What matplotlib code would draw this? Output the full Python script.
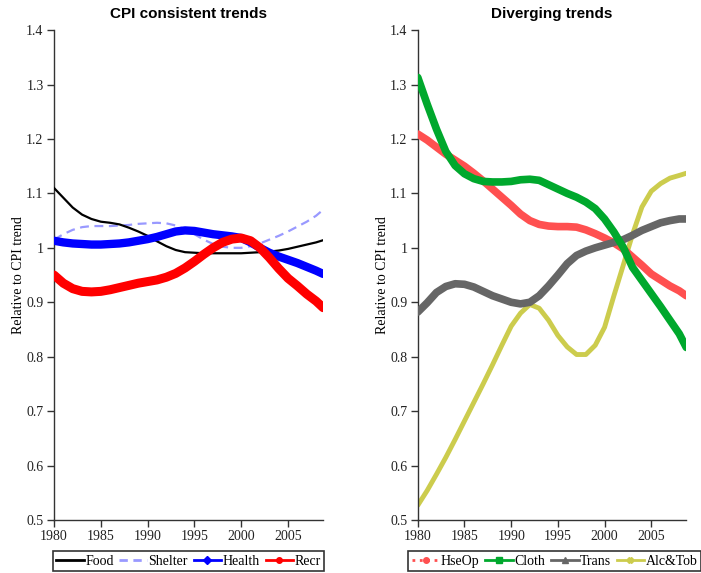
import numpy as np
import matplotlib
matplotlib.use("Agg")
import matplotlib.pyplot as plt
from matplotlib.lines import Line2D

# roky (posledni bod je konec roku 2008)
years = [1980, 1981, 1982, 1983, 1984, 1985, 1986, 1987, 1988, 1989,
         1990, 1991, 1992, 1993, 1994, 1995, 1996, 1997, 1998, 1999,
         2000, 2001, 2002, 2003, 2004, 2005, 2006, 2007, 2008, 2008.75]

# CPI consistent trends
food = [1.110, 1.092, 1.074, 1.061, 1.053, 1.048, 1.046, 1.043, 1.037, 1.030,
        1.022, 1.012, 1.003, 0.996, 0.992, 0.991, 0.990, 0.990, 0.990, 0.990,
        0.990, 0.991, 0.992, 0.993, 0.995, 0.998, 1.002, 1.006, 1.010, 1.014]
shelter = [1.015, 1.025, 1.033, 1.038, 1.040, 1.040, 1.040, 1.041, 1.042, 1.044,
           1.045, 1.046, 1.045, 1.041, 1.034, 1.025, 1.015, 1.007, 1.002, 1.000,
           1.000, 1.003, 1.008, 1.015, 1.022, 1.030, 1.039, 1.048, 1.059, 1.070]
health = [1.013, 1.010, 1.008, 1.007, 1.006, 1.006, 1.007, 1.008, 1.010, 1.013,
          1.016, 1.020, 1.025, 1.030, 1.032, 1.031, 1.028, 1.025, 1.023, 1.021,
          1.018, 1.010, 1.000, 0.991, 0.984, 0.978, 0.972, 0.965, 0.958, 0.952]
recr = [0.950, 0.935, 0.925, 0.920, 0.919, 0.920, 0.923, 0.927, 0.931, 0.935,
        0.938, 0.941, 0.946, 0.953, 0.963, 0.975, 0.988, 1.000, 1.010, 1.016,
        1.018, 1.013, 1.000, 0.982, 0.962, 0.944, 0.930, 0.915, 0.902, 0.890]

# Diverging trends
hseop = [1.209, 1.198, 1.185, 1.172, 1.161, 1.150, 1.137, 1.123, 1.108, 1.093,
         1.078, 1.062, 1.050, 1.043, 1.040, 1.039, 1.039, 1.038, 1.033, 1.026,
         1.018, 1.009, 0.998, 0.983, 0.968, 0.952, 0.941, 0.930, 0.921, 0.912]
cloth = [1.313, 1.264, 1.218, 1.177, 1.151, 1.136, 1.127, 1.122, 1.121, 1.121,
         1.122, 1.125, 1.126, 1.124, 1.116, 1.108, 1.100, 1.093, 1.084, 1.072,
         1.053, 1.029, 1.001, 0.964, 0.940, 0.916, 0.892, 0.867, 0.842, 0.817]
trans = [0.882, 0.899, 0.918, 0.929, 0.934, 0.933, 0.928, 0.920, 0.912, 0.906,
         0.900, 0.897, 0.900, 0.912, 0.930, 0.950, 0.971, 0.986, 0.994, 1.000,
         1.005, 1.010, 1.015, 1.023, 1.032, 1.039, 1.046, 1.050, 1.053, 1.053]
alctob = [0.527, 0.554, 0.584, 0.615, 0.648, 0.682, 0.716, 0.750, 0.785, 0.821,
          0.856, 0.880, 0.896, 0.889, 0.867, 0.839, 0.818, 0.804, 0.804, 0.821,
          0.854, 0.912, 0.968, 1.025, 1.075, 1.104, 1.118, 1.128, 1.133, 1.137]

serif = "Liberation Serif"
plt.rcParams["font.family"] = serif

fig = plt.figure(figsize=(7.01, 5.73), dpi=100)
ax1 = fig.add_axes([0.077, 0.0925, 0.384, 0.855])
ax2 = fig.add_axes([0.596, 0.0925, 0.383, 0.855])


def styluj(ax, title):
    ax.set_xlim(1980, 2008.75)
    ax.set_ylim(0.5, 1.4)
    ax.set_xticks([1980, 1985, 1990, 1995, 2000, 2005])
    ax.set_yticks(np.arange(0.5, 1.41, 0.1))
    ax.set_yticklabels([f"{v:g}" for v in np.round(np.arange(0.5, 1.41, 0.1), 1)])
    for s in ["top", "right"]:
        ax.spines[s].set_visible(False)
    for s in ["left", "bottom"]:
        ax.spines[s].set_color("#333333")
        ax.spines[s].set_linewidth(1.0)
    ax.tick_params(direction="out", length=5, width=1, color="#333333",
                   labelsize=10, labelcolor="#222222", pad=2.5)
    ax.set_ylabel("Relative to CPI trend", fontsize=10, labelpad=1)
    ax.set_title(title, fontsize=11, fontweight="bold",
                 family="Liberation Sans", pad=9)


# levy graf
ax1.plot(years, food, color="black", lw=1.6, zorder=3)
ax1.plot(years, shelter, color="#9999ff", lw=1.6, ls=(0, (4, 2.5)), zorder=2)
ax1.plot(years, health, color="#0000ff", lw=6,
         solid_capstyle="round", zorder=4)
ax1.plot(years, recr, color="#ff0000", lw=6.5,
         solid_capstyle="round", zorder=5)
styluj(ax1, "CPI consistent trends")

h1 = [Line2D([], [], color="black", lw=2),
      Line2D([], [], color="#9999ff", lw=2, ls=(0, (3, 2))),
      Line2D([], [], color="#0000ff", lw=2, marker="D", ms=4),
      Line2D([], [], color="#ff0000", lw=2, marker="o", ms=4)]
leg1 = ax1.legend(h1, ["Food", "Shelter", "Health", "Recr"], loc="upper center",
                  bbox_to_anchor=(0.5, -0.05), ncol=4, fontsize=10,
                  handlelength=2.0, handletextpad=0.1, columnspacing=0.4,
                  borderpad=0.25, frameon=True, fancybox=False)
leg1.get_frame().set_edgecolor("black")
leg1.get_frame().set_linewidth(1.2)

# pravy graf
ax2.plot(years, alctob, color="#cccc4d", lw=3.5,
         solid_capstyle="round", zorder=2)
ax2.plot(years, hseop, color="#ff5050", lw=5.5,
         solid_capstyle="round", zorder=3)
ax2.plot(years, trans, color="#666666", lw=5.5,
         solid_capstyle="round", zorder=4)
ax2.plot(years, cloth, color="#00a82d", lw=5.5,
         solid_capstyle="round", zorder=5)
styluj(ax2, "Diverging trends")

h2 = [Line2D([], [], color="#ff5050", lw=2, ls=":", marker="o", ms=4),
      Line2D([], [], color="#00a82d", lw=2, marker="s", ms=4),
      Line2D([], [], color="#666666", lw=2, marker="^", ms=4),
      Line2D([], [], color="#cccc4d", lw=2, marker="X", ms=4)]
leg2 = ax2.legend(h2, ["HseOp", "Cloth", "Trans", "Alc&Tob"], loc="upper center",
                  bbox_to_anchor=(0.51, -0.05), ncol=4, fontsize=10,
                  handlelength=2.0, handletextpad=0.1, columnspacing=0.4,
                  borderpad=0.25, frameon=True, fancybox=False)
leg2.get_frame().set_edgecolor("black")
leg2.get_frame().set_linewidth(1.2)

fig.savefig("out.png", dpi=100)
